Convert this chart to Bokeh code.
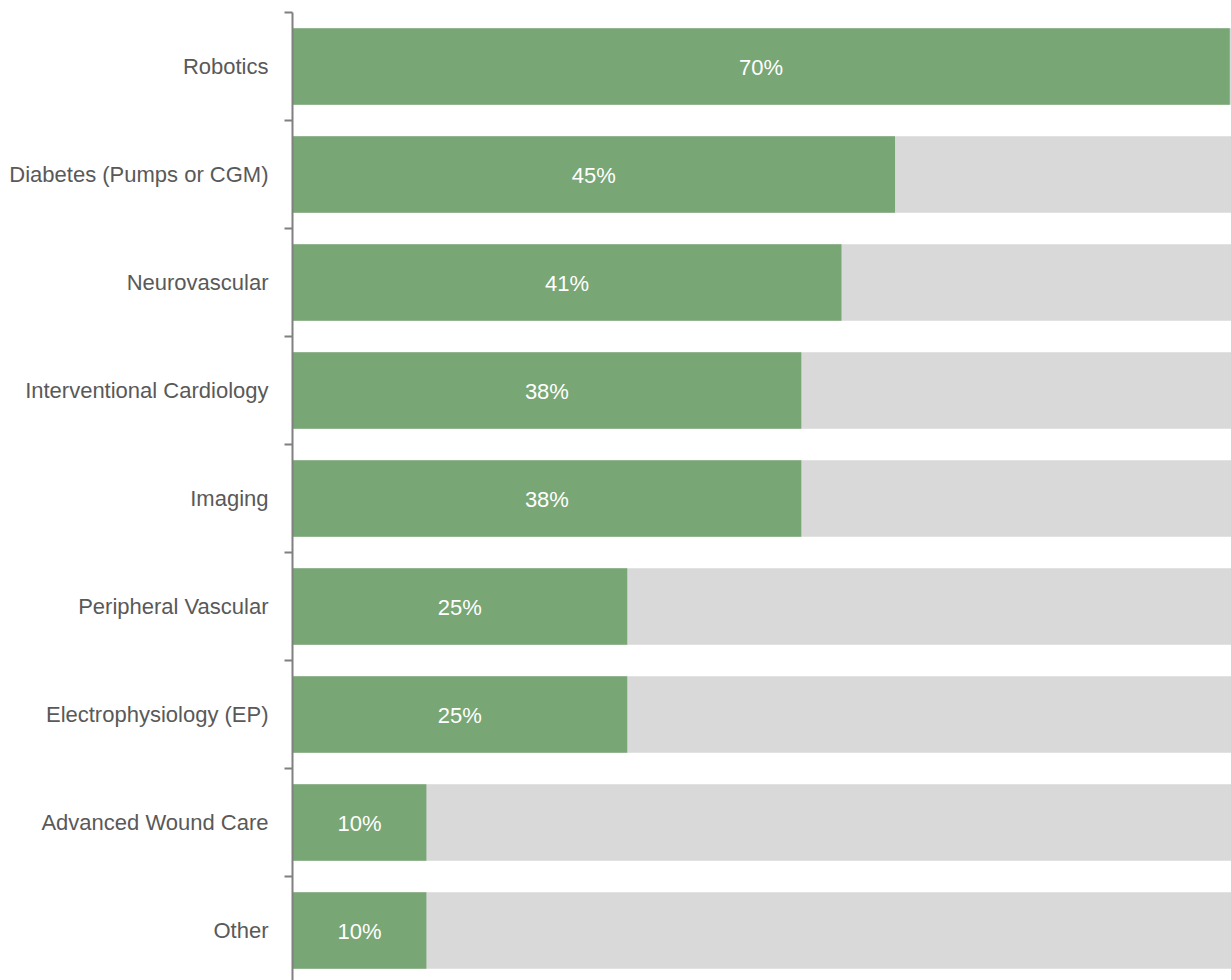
from bokeh.plotting import figure
from bokeh.models import ColumnDataSource, FixedTicker, Range1d
from bokeh.embed import file_html
from bokeh.resources import INLINE
from bokeh.core.properties import value

categories = ["Robotics", "Diabetes (Pumps or CGM)", "Neurovascular",
              "Interventional Cardiology", "Imaging", "Peripheral Vascular",
              "Electrophysiology (EP)", "Advanced Wound Care", "Other"]
values = [70, 45, 41, 38, 38, 25, 25, 10, 10]
value_labels = ["70%", "45%", "41%", "38%", "38%", "25%", "25%", "10%", "10%"]

n = len(categories)
ypos = [n - 1 - i + 0.5 for i in range(n)]
XMAX = 70.13

src = ColumnDataSource(dict(
    y=ypos, v=values, half=[v / 2 for v in values], lab=value_labels,
    full=[XMAX] * n,
))

p = figure(width=1231, height=980, output_backend="svg", toolbar_location=None,
           x_range=Range1d(0, XMAX), y_range=Range1d(n - 968 / 108, n),
           min_border_left=292, min_border_right=0, min_border_top=12,
           min_border_bottom=0)
p.outline_line_color = None
p.xaxis.visible = False
p.xgrid.visible = False
p.ygrid.visible = False
p.background_fill_color = "white"
p.border_fill_color = "white"

p.hbar(y="y", left=0, right="full", height=0.71, source=src,
       color="#D9D9D9", line_color=None)
p.hbar(y="y", left=0, right="v", height=0.71, source=src,
       color="#78A675", line_color=None)
p.text(x="half", y="y", text="lab", source=src, text_align="center",
       text_baseline="middle", text_color="white", y_offset=1,
       text_font=value("Liberation Sans"), text_font_size="22px")

ax = p.yaxis[0]
ax.ticker = FixedTicker(ticks=ypos, minor_ticks=list(range(1, n + 1)))
ax.major_label_overrides = {y: c for y, c in zip(ypos, categories)}
ax.major_tick_out = 0
ax.major_tick_in = 0
ax.minor_tick_out = 8
ax.minor_tick_in = 0
ax.minor_tick_line_color = "#808080"
ax.minor_tick_line_width = 2
ax.axis_line_color = "#808080"
ax.axis_line_width = 2
ax.major_label_standoff = 16
ax.major_label_text_font = "Liberation Sans"
ax.major_label_text_font_size = "22px"
ax.major_label_text_color = "#595959"

open("out.html", "w").write(file_html(p, INLINE))
